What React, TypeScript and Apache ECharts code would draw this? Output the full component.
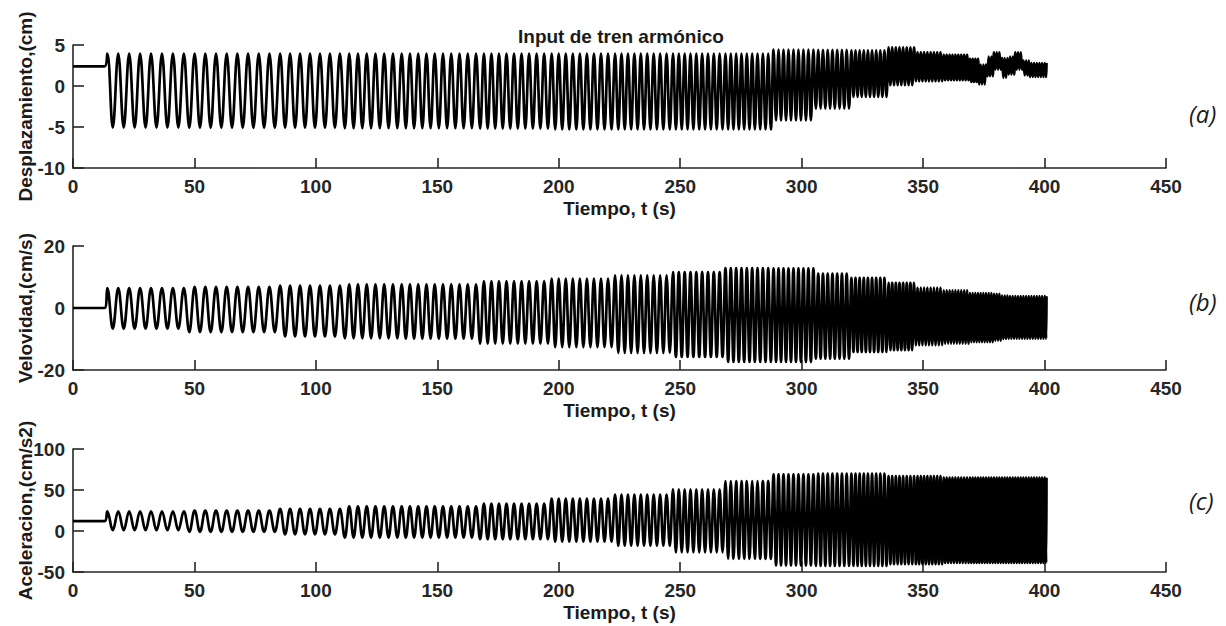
import React, { useEffect, useRef } from "react";
import * as echarts from "echarts";

// ---- Data ----
// The input is a train of harmonic blocks; each block has its own period (s)
const blockStart = [13, 46, 85, 110, 135, 166, 197, 223, 247, 268, 288, 305, 320, 335, 347, 358, 369, 373, 376, 379, 382, 385, 388, 391, 394];
const blockPeriod = [4.5, 4.4, 4.1, 3.6, 3.4, 3.1, 2.9, 2.65, 2.4, 2.2, 2.05, 1.95, 1.7, 1.5, 1.35, 1.2, 1.1, 1.1, 1.1, 1.1, 1.1, 1.1, 1.1, 1.1, 1.1];
const endTime = 400.8;

// (a) Displacement (cm): rest value, then upper / lower peaks per block
const dispRest = 2.4;
const dispHi = [3.95, 3.95, 3.95, 3.95, 3.95, 3.95, 3.95, 3.95, 3.95, 3.95, 4.45, 4.4, 4.35, 4.7, 4.1, 3.8, 3.3, 2.6, 3.6, 4.1, 3.4, 3.6, 4.1, 3.1, 2.8];
const dispLo = [-5.07, -5.1, -5.1, -5.15, -5.15, -5.2, -5.3, -5.3, -5.3, -5.3, -4.2, -2.76, -1.34, 0.1, 0.6, 0.7, 0.5, 0.2, 1.2, 2.0, 1.0, 1.4, 2.0, 1.3, 1.1];

// (b) Velocity (cm/s)
const velRest = 0;
const velHi = [6.45, 6.8, 7.2, 7.6, 7.6, 8.7, 9.5, 10.5, 11.6, 12.9, 12.8, 11.1, 9.7, 8.1, 6.6, 5.7, 4.8, 4.8, 4.8, 4.6, 4.0, 3.8, 3.8, 3.8, 3.8];
const velLo = [-6.65, -7.8, -9.2, -9.8, -9.9, -11.5, -12.6, -14.5, -15.8, -17.4, -17.4, -16.3, -14.2, -13.6, -12, -11.5, -11, -11, -11, -10.5, -10, -9.9, -9.9, -9.9, -9.9];

// (c) Acceleration (cm/s2)
const accRest = 12;
const accHi = [24, 25, 27, 30, 30, 33.5, 39.5, 44.5, 50.7, 61, 69, 70, 70, 67, 67, 65, 65, 65, 65, 65, 65, 65, 65, 65, 65];
const accLo = [1, -1, -4, -8, -8, -10, -13, -18, -26, -34, -42, -42.5, -42.5, -40.5, -40.5, -39, -39, -39, -39, -39, -39, -39, -39, -39, -39];

// Axis ticks
const xTicks = { min: 0, max: 450, interval: 50 };
const dispAxis = { min: -10, max: 5, interval: 5 };
const velAxis = { min: -20, max: 20, interval: 20 };
const accAxis = { min: -50, max: 100, interval: 50 };

const titleText = "Input de tren armónico";
const xName = "Tiempo, t (s)";
const yNames = ["Desplazamiento,(cm)", "Velovidad,(cm/s)", "Aceleracion,(cm/s2)"];
const panelTags = ["(a)", "(b)", "(c)"];

function blockOf(t: number): number {
  let b = 0;
  for (let i = 0; i < blockStart.length; i++) if (t >= blockStart[i]) b = i;
  return b;
}

// Connect the read peaks (alternating upper / lower) of every block
function buildSignal(rest: number, hi: number[], lo: number[]): number[][] {
  const pts: number[][] = [[0, rest], [blockStart[0], rest]];
  let t = blockStart[0] + blockPeriod[0] / 4;
  let k = 0;
  while (t < endTime) {
    const b = blockOf(t);
    pts.push([t, k % 2 === 0 ? hi[b] : lo[b]]);
    t += blockPeriod[b] / 2;
    k++;
  }
  const last = hi.length - 1;
  pts.push([endTime, k % 2 === 0 ? hi[last] : lo[last]]);
  return pts;
}

const FONT = '"Liberation Sans", Arial, Helvetica, sans-serif';
const AX = "#262626";

const grids = [
  { left: 73, top: 45, width: 1093, height: 123 },
  { left: 73, top: 246, width: 1093, height: 124 },
  { left: 73, top: 449, width: 1093, height: 123 },
];

export default function App() {
  const ref = useRef<HTMLDivElement>(null);
  useEffect(() => {
    if (!ref.current) return;
    const chart = echarts.init(ref.current, null, { renderer: "svg" });
    const yRanges = [dispAxis, velAxis, accAxis];
    const signals = [
      buildSignal(dispRest, dispHi, dispLo),
      buildSignal(velRest, velHi, velLo),
      buildSignal(accRest, accHi, accLo),
    ];
    const labelStyle = { color: AX, fontSize: 19, fontWeight: "bold", fontFamily: FONT };
    const option: any = {
      animation: false,
      backgroundColor: "#ffffff",
      title: {
        text: titleText,
        left: 513,
        top: 22,
        textStyle: { color: "#1a1a1a", fontSize: 19, fontWeight: "bold", fontFamily: FONT },
      },
      grid: grids.map((g) => ({ ...g, containLabel: false, outerBoundsMode: "none" })),
      xAxis: grids.map((_, i) => ({
        type: "value",
        gridIndex: i,
        min: xTicks.min,
        max: xTicks.max,
        interval: xTicks.interval,
        axisLine: { show: true, onZero: false, lineStyle: { color: AX, width: 1.6 } },
        axisTick: { show: true, inside: true, length: 10, lineStyle: { color: AX, width: 1.6 } },
        axisLabel: { ...labelStyle, margin: 9, showMinLabel: true, showMaxLabel: true },
        splitLine: { show: false },
        name: xName,
        nameLocation: "middle",
        nameGap: 31,
        nameMoveOverlap: false,
        nameTextStyle: { color: "#1a1a1a", fontSize: 19, fontWeight: "bold", fontFamily: FONT },
      })),
      yAxis: grids.map((_, i) => ({
        type: "value",
        gridIndex: i,
        min: yRanges[i].min,
        max: yRanges[i].max,
        interval: yRanges[i].interval,
        axisLine: { show: true, onZero: false, lineStyle: { color: AX, width: 1.6 } },
        axisTick: { show: true, inside: true, length: 11, lineStyle: { color: AX, width: 1.6 } },
        axisLabel: { ...labelStyle, margin: 8, showMinLabel: true, showMaxLabel: true },
        splitLine: { show: false },
        name: yNames[i],
        nameLocation: "middle",
        nameGap: 38,
        nameMoveOverlap: false,
        nameTextStyle: { color: "#1a1a1a", fontSize: 19, fontWeight: "bold", fontFamily: FONT },
      })),
      series: signals.map((d, i) => ({
        type: "line",
        xAxisIndex: i,
        yAxisIndex: i,
        data: d,
        showSymbol: false,
        symbol: "none",
        smooth: 0.4,
        lineStyle: { color: "#000000", width: 2.7 },
        silent: true,
      })),
      graphic: panelTags.map((tag, i) => ({
        type: "text",
        x: 1189,
        y: [113, 301, 500][i],
        style: {
          text: tag,
          fontSize: 24,
          fontStyle: "italic",
          fontFamily: '"Open Sans", "Noto Sans", sans-serif',
          fill: "#1a1a1a",
          verticalAlign: "middle",
        },
      })),
    };
    chart.setOption(option);
    return () => chart.dispose();
  }, []);
  return (
    <div
      ref={ref}
      style={{ position: "fixed", left: 0, top: 0, width: 1226, height: 626, background: "#fff" }}
    />
  );
}
